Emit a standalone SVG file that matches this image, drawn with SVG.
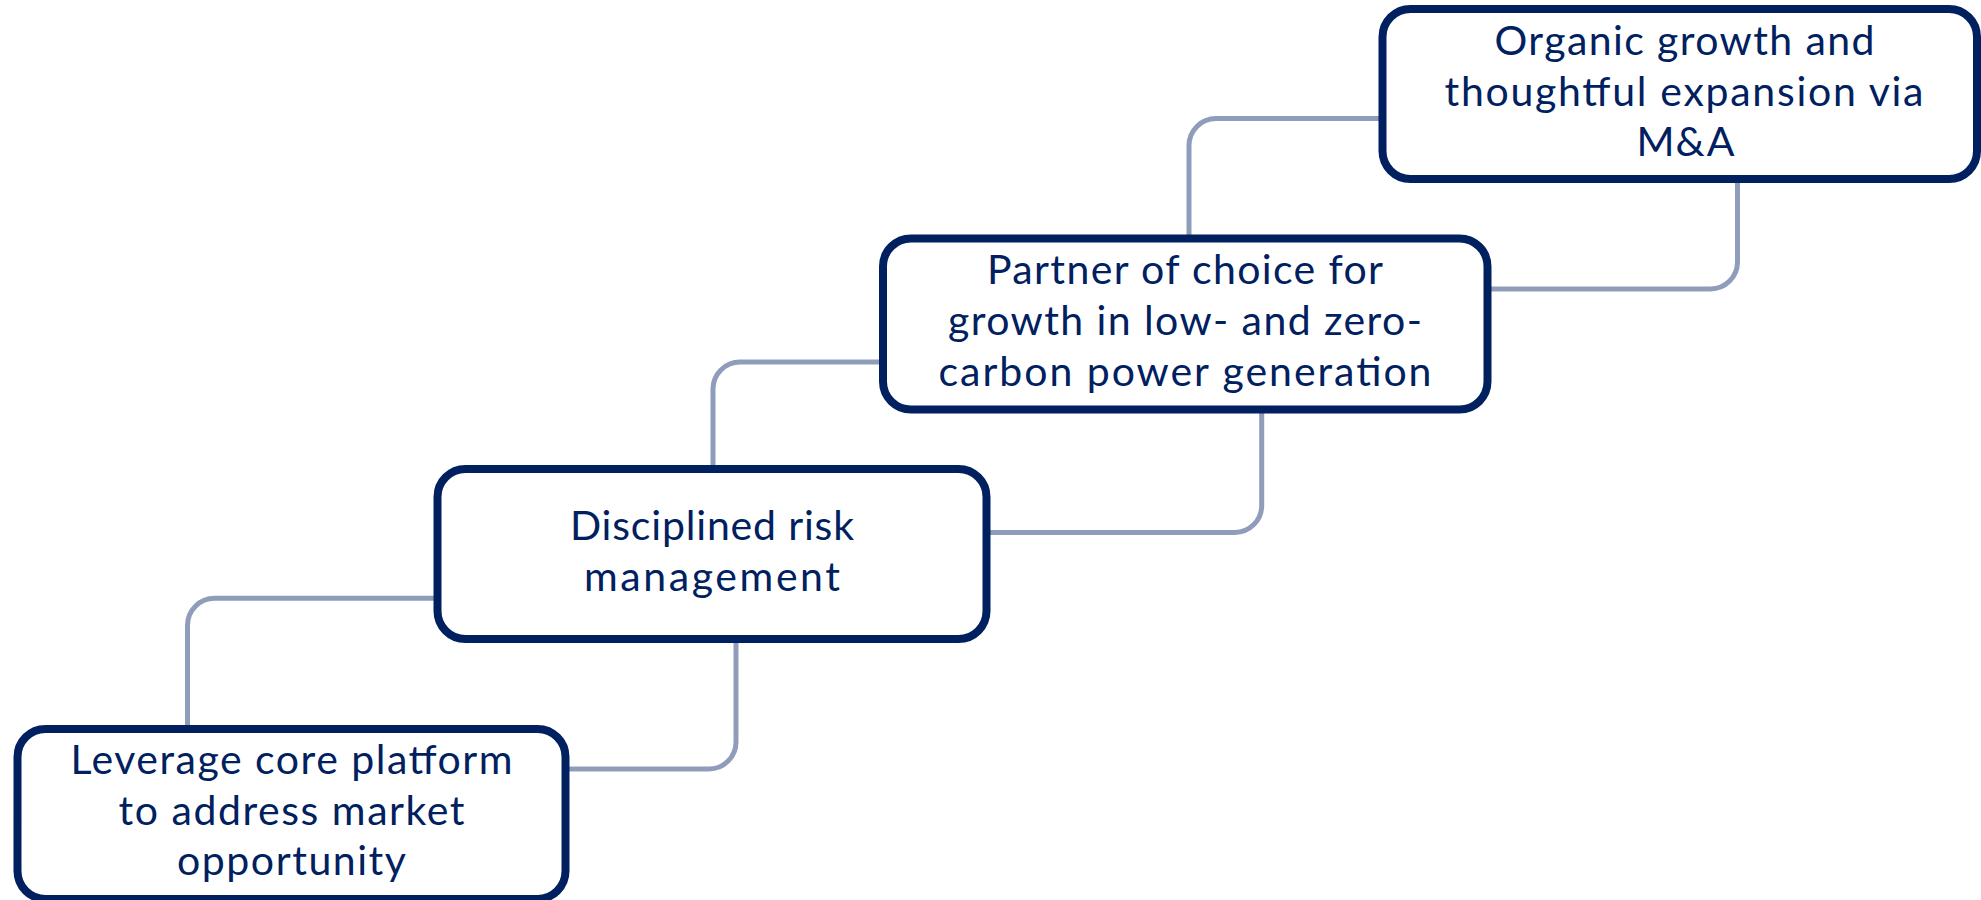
<svg xmlns="http://www.w3.org/2000/svg" width="1981" height="900" viewBox="0 0 1981 900">
  <style>
    .box { fill: #ffffff; stroke: #002060; stroke-width: 8; }
    .link { fill: none; stroke: #8f9dba; stroke-width: 5; }
    .label { font-family: Lato, "Liberation Sans", sans-serif; font-size: 41px; fill: #002060; text-anchor: middle; }
  </style>
  <rect width="1981" height="900" fill="#ffffff"/>

  <!-- stair-step connectors between the boxes -->
  <g id="connectors">
    <path class="link" d="M187.5,729 V625.3 A27,27 0 0 1 214.5,598.3 H437.5"/>
    <path class="link" d="M565.5,769 H709 A27,27 0 0 0 736,742 V639"/>
    <path class="link" d="M713,469 V389 A27,27 0 0 1 740,362 H883"/>
    <path class="link" d="M986.7,532.5 H1234.7 A27,27 0 0 0 1261.7,505.5 V409.5"/>
    <path class="link" d="M1189,238.5 V145.5 A27,27 0 0 1 1216,118.5 H1382.5"/>
    <path class="link" d="M1487.5,289 H1710.5 A27,27 0 0 0 1737.5,262 V179"/>
  </g>

  <g id="node-platform">
    <rect class="box" x="17.5" y="729" width="548" height="170" rx="28"/>
    <text class="label" x="291.5" y="774" textLength="442">Leverage core platform</text>
    <text class="label" x="291.5" y="825" textLength="346">to address market</text>
    <text class="label" x="291.5" y="875" textLength="229">opportunity</text>
  </g>

  <g id="node-risk">
    <rect class="box" x="437.5" y="469" width="549" height="170" rx="28"/>
    <text class="label" x="712" y="540" textLength="284">Disciplined risk</text>
    <text class="label" x="712" y="591" textLength="256">management</text>
  </g>

  <g id="node-partner">
    <rect class="box" x="883" y="238.5" width="604.5" height="171" rx="28"/>
    <text class="label" x="1185" y="284" textLength="396">Partner of choice for</text>
    <text class="label" x="1185" y="335" textLength="474">growth in low- and zero-</text>
    <text class="label" x="1185" y="386" textLength="493">carbon power generation</text>
  </g>

  <g id="node-growth">
    <rect class="box" x="1382.5" y="9" width="594.5" height="170" rx="28"/>
    <text class="label" x="1684.5" y="55" textLength="380">Organic growth and</text>
    <text class="label" x="1684" y="106" textLength="479">thoughtful expansion via</text>
    <text class="label" x="1685.5" y="156" textLength="98">M&amp;A</text>
  </g>
</svg>
